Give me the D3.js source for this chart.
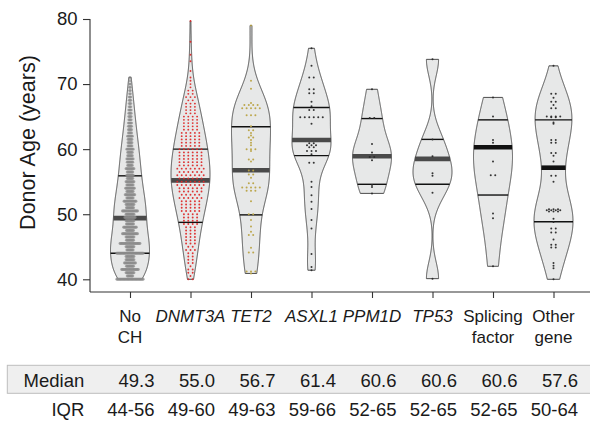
<!DOCTYPE html>
<html><head><meta charset="utf-8">
<script src="https://cdn.jsdelivr.net/npm/d3@7"></script>
<style>body{margin:0;background:#fff} svg{display:block} text{font-family:"Liberation Sans",Arial,Helvetica,sans-serif;fill:#1a1a1a}</style>
</head><body><svg id="c" width="590" height="421"></svg>
<script>
// ---------------- DATA ----------------
const categories = ["No CH","DNMT3A","TET2","ASXL1","PPM1D","TP53","Splicing factor","Other gene"];
const labelLines = [["No","CH"],["DNMT3A"],["TET2"],["ASXL1"],["PPM1D"],["TP53"],["Splicing","factor"],["Other","gene"]];
const italicCats = [false,true,true,true,true,true,false,false];
const tableMedian = ["49.3","55.0","56.7","61.4","60.6","60.6","60.6","57.6"];
const tableIQR = ["44-56","49-60","49-63","59-66","52-65","52-65","52-65","50-64"];
const yTicks = [40,50,60,70,80];
// quartile / median lines as drawn inside the violins
const q25 = [44.0,48.75,49.9,59.0,54.6,54.6,52.95,48.85];
const q50 = [49.4,55.2,56.75,61.4,58.9,58.5,60.3,57.15];
const q75 = [55.9,60.0,63.45,66.4,64.7,61.5,64.5,64.5];

// No CH: ages (binned) and number of donors in each bin
const noChAges = [40,40.5,41,41.5,42,42.5,43,43.5,44,44.5,45,45.5,46,46.5,47,47.5,48,48.5,49,49.5,50,50.5,51,51.5,52,52.5,53,53.5,54,54.5,55,55.5,56,56.5,57,57.5,58,58.5,59,59.5,60,60.5,61,61.5,62,62.5,63,63.5,64,64.5,65,65.5,66,66.5,67,67.5,68,68.5,69,69.5,70,70.5,71];
const noChCounts = [34,8,11,22,10,15,11,11,34,9,11,26,10,11,20,10,17,10,11,14,11,20,10,11,16,9,13,9,12,9,11,8,9,8,11,7,8,9,7,7,9,6,6,6,7,5,5,5,5,4,4,4,4,3,3,3,3,2,2,2,2,1,1];

// DNMT3A: ages (binned) and counts
const dnmt3aAges = [40,40.5,41,41.5,42,42.5,43,43.5,44,44.5,45,45.5,46,46.5,47,47.5,48,48.5,49,49.5,50,50.5,51,51.5,52,52.5,53,53.5,54,54.5,55,55.5,56,56.5,57,57.5,58,58.5,59,59.5,60,60.5,61,61.5,62,62.5,63,63.5,64,64.5,65,65.5,66,66.5,67,67.5,68,68.5,69,69.5,70,70.5,71,72,73.5,74.5,76.5,79.7];
const dnmt3aCounts = [2,1,2,2,1,2,2,2,2,3,2,3,3,3,3,3,3,4,4,4,4,5,5,5,5,6,5,6,6,7,7,6,7,6,7,6,6,6,6,6,6,5,5,5,5,5,4,4,4,4,4,3,3,3,3,2,3,2,2,1,1,1,1,1,1,1,1,1];

const tet2Ages = [79.0,70.5,69.3,67.1,66.8,66.8,66.8,66.8,66.3,66.3,66.3,66.3,66.3,65.2,65.2,65.2,63.5,62.9,62.9,62.5,62.1,61.8,61.8,61.4,61.0,60.6,60.0,60.0,60.0,59.7,58.4,58.4,58.1,56.7,56.7,56.1,56.1,55.6,54.75,54.75,54.1,54.1,54.1,54.1,54.1,53.6,53.6,53.6,52.0,50.0,50.0,49.1,48.1,47.3,46.8,46.8,44.85,44.1,44.1,41.2,41.2,41.2,40.9];
const asxl1Ages = [75.5,72.8,71.0,71.0,69.2,69.2,68.6,68.6,67.3,66.6,66.0,66.0,64.9,64.9,64.9,64.9,64.9,64.9,63.9,60.9,60.9,60.6,60.6,60.6,60.3,60.3,59.7,59.7,59.7,59.2,57.9,57.9,55.0,54.2,52.9,51.9,50.8,49.1,47.8,43.9,41.9,41.4];
const ppm1dAges = [69.2,64.8,64.8,60.8,59.5,58.8,58.8,58.3,54.5,54.2,53.2];
const tp53Ages = [73.8,61.5,58.9,56.3,55.9,53.3,40.1];
const splicingAges = [67.95,65.0,61.4,61.0,58.1,56.0,56.0,50.1,49.4,42.0];
const otherAges = [72.8,68.5,68.5,67.9,67.3,67.3,66.8,66.3,66.3,65.0,65.0,65.0,65.0,64.9,64.9,64.1,63.9,61.4,61.4,61.0,61.0,59.4,59.4,59.0,58.1,55.9,55.9,55.0,50.75,50.75,50.75,50.6,50.6,50.6,50.6,50.4,50.4,50.4,49.3,48.8,47.8,47.8,47.2,47.2,46.1,45.3,45.3,44.9,44.9,42.5,42.1,41.7,40.0];

// ---------------- STYLE ----------------
const dotColors = ["#8c8c8c","#dd2a2a","#b9a344","#2a2a2a","#2a2a2a","#2a2a2a","#2a2a2a","#2a2a2a"];
const dotSpacing = [0.8,4.4,4.4,4.5,4.5,4.5,4.5,4.5];
const dotR = [1.45,0.95,1.0,1.0,1.0,1.0,1.0,1.0];
const medianColors = ["#4a4a4a","#4a4a4a","#4a4a4a","#4a4a4a","#4a4a4a","#4a4a4a","#111","#111"];

function fromList(arr){ const m=new Map(); arr.forEach(v=>m.set(v,(m.get(v)||0)+1)); return Array.from(m,([age,count])=>({age,count})).sort((a,b)=>a.age-b.age); }
const groups = [
  noChAges.map((a,i)=>({age:a,count:noChCounts[i]})),
  dnmt3aAges.map((a,i)=>({age:a,count:dnmt3aCounts[i]})),
  fromList(tet2Ages), fromList(asxl1Ages), fromList(ppm1dAges),
  fromList(tp53Ages), fromList(splicingAges), fromList(otherAges)
];

const svg = d3.select("#c");
const y = d3.scaleLinear().domain([40,80]).range([279.3,19]);
const x = d3.scalePoint().domain(categories).range([130,553.5]);
const HALF = 19.5;

function kde(rows){
  const n = d3.sum(rows,r=>r.count);
  const mean = d3.sum(rows,r=>r.age*r.count)/n;
  const sd = Math.sqrt(d3.sum(rows,r=>r.count*(r.age-mean)**2)/(n-1));
  const flat=[]; rows.forEach(r=>{for(let k=0;k<r.count;k++) flat.push(r.age);});
  flat.sort(d3.ascending);
  const iqr = d3.quantileSorted(flat,0.75)-d3.quantileSorted(flat,0.25);
  let lo = Math.min(sd, iqr/1.34); if(!(lo>0)) lo = sd;
  const bw = 0.9*lo*Math.pow(n,-0.2);
  const mn = flat[0], mx = flat[flat.length-1];
  const pts=[];
  for(let i=0;i<512;i++){
    const t = mn+(mx-mn)*i/511;
    let s=0; rows.forEach(r=>{const z=(t-r.age)/bw; s+=r.count*Math.exp(-0.5*z*z);});
    pts.push({age:t,d:s});
  }
  const dmax = d3.max(pts,p=>p.d);
  pts.forEach(p=>p.w=p.d/dmax*HALF);
  return pts;
}
function widthAt(pts,a){
  const i = d3.bisector(p=>p.age).left(pts,a);
  if(i<=0) return pts[0].w; if(i>=pts.length) return pts[pts.length-1].w;
  const p0=pts[i-1],p1=pts[i]; const t=(a-p0.age)/(p1.age-p0.age);
  return p0.w+(p1.w-p0.w)*t;
}

// axes
const gy = svg.append("g").attr("transform","translate(90,0)")
  .call(d3.axisLeft(y).tickValues(yTicks).tickSize(7).tickPadding(5.5));
gy.select(".domain").remove();
gy.selectAll(".tick line").attr("stroke","#333").attr("stroke-width",1.1);
gy.selectAll(".tick text").style("font-size","18.5px").style("font-family",'"Liberation Sans",Arial,sans-serif').attr("fill","#1a1a1a");
svg.append("line").attr("x1",90).attr("x2",90).attr("y1",19).attr("y2",292).attr("stroke","#333").attr("stroke-width",1.1);

const gx = svg.append("g").attr("transform","translate(0,292)")
  .call(d3.axisBottom(x).tickSize(6).tickFormat(""));
gx.select(".domain").remove();
gx.selectAll(".tick line").attr("stroke","#333").attr("stroke-width",1.1);
svg.append("line").attr("x1",90).attr("x2",590).attr("y1",292).attr("y2",292).attr("stroke","#333").attr("stroke-width",1.1);

const title = svg.append("text").attr("transform","translate(34.5,142.5) rotate(-90)")
  .attr("text-anchor","middle").style("font-size","21px").text("Donor Age (years)");
// fit the title to the span it occupies in the figure (y 55 → 230)
const tl = title.node().getComputedTextLength();
if (tl > 0) title.style("font-size", (21*175/tl).toFixed(2)+"px");

// violins
categories.forEach((c,gi)=>{
  const cx = x(c);
  const pts = kde(groups[gi]);
  const g = svg.append("g");
  g.append("path")
    .attr("d", d3.area().x0(p=>cx-p.w).x1(p=>cx+p.w).y(p=>y(p.age))(pts))
    .attr("fill","#e7e8e8").attr("stroke","#3a3a3a").attr("stroke-width",0.9);
  [q25[gi],q75[gi]].forEach(q=>{
    const w = widthAt(pts,q);
    g.append("line").attr("x1",cx-w).attr("x2",cx+w).attr("y1",y(q)).attr("y2",y(q))
      .attr("stroke","#111").attr("stroke-width",1.4);
  });
  const wm = widthAt(pts,q50[gi]);
  g.append("line").attr("x1",cx-wm).attr("x2",cx+wm).attr("y1",y(q50[gi])).attr("y2",y(q50[gi]))
    .attr("stroke",medianColors[gi]).attr("stroke-width",4.6);
  const dots=[];
  groups[gi].forEach(r=>{
    for(let k=0;k<r.count;k++) dots.push({age:r.age,off:(k-(r.count-1)/2)*dotSpacing[gi]});
  });
  g.selectAll("circle").data(dots).join("circle")
    .attr("cx",d=>cx+d.off).attr("cy",d=>y(d.age)).attr("r",dotR[gi])
    .attr("fill",dotColors[gi]).attr("fill-opacity",gi===0?0.7:0.95);
});

// category labels
categories.forEach((c,gi)=>{
  const t = svg.append("text").attr("text-anchor","middle").style("font-size","17px")
    .style("font-style",italicCats[gi]?"italic":"normal");
  labelLines[gi].forEach((ln,li)=>{
    t.append("tspan").attr("x",x(c)).attr("y",321.5+li*21.2).text(ln);
  });
});

// table
svg.append("rect").attr("x",7.3).attr("y",365.3).attr("width",590).attr("height",28)
  .attr("fill","#efefef").attr("stroke","#bdbdbd").attr("stroke-width",1);
svg.append("text").attr("x",84.3).attr("y",387.3).attr("text-anchor","end").style("font-size","18.5px").text("Median");
svg.append("text").attr("x",84.3).attr("y",416).attr("text-anchor","end").style("font-size","18.5px").text("IQR");
categories.forEach((c,gi)=>{
  svg.append("text").attr("x",x(c)+24.5).attr("y",387.3).attr("text-anchor","end").style("font-size","18.5px").text(tableMedian[gi]);
  svg.append("text").attr("x",x(c)+24.5).attr("y",416).attr("text-anchor","end").style("font-size","18.5px").text(tableIQR[gi]);
});
</script></body></html>
